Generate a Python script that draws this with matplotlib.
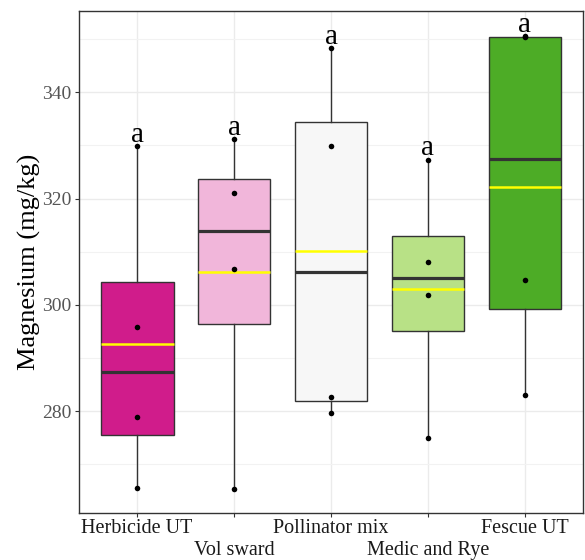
import matplotlib

matplotlib.use("Agg")
import matplotlib.pyplot as plt
import numpy as np
from matplotlib.ticker import MultipleLocator

# Magnesium per plot (mg/kg), four plots per treatment
treatments = ["Herbicide UT", "Vol sward", "Pollinator mix", "Medic and Rye", "Fescue UT"]
herbicide_ut = [265.6, 278.9, 295.8, 329.9]
vol_sward = [265.3, 306.8, 321.1, 331.2]
pollinator_mix = [279.7, 282.7, 329.8, 348.3]
medic_rye = [274.9, 301.8, 308.1, 327.3]
fescue_ut = [283.1, 304.6, 350.4, 350.6]
letters = ["a", "a", "a", "a", "a"]
fills = ["#D01C8B", "#F1B6DA", "#F7F7F7", "#B8E186", "#4DAC26"]

groups = [herbicide_ut, vol_sward, pollinator_mix, medic_rye, fescue_ut]
pos = np.arange(1, len(treatments) + 1)

plt.rcParams["font.family"] = ["Liberation Serif", "DejaVu Serif"]

fig = plt.figure(figsize=(5.85, 5.6), dpi=100)
ax = fig.add_axes([79 / 585, 1 - 513 / 560, 504 / 585, 502 / 560])

edge = "#333333"
bp = ax.boxplot(
    groups,
    positions=pos,
    widths=0.75,
    whis=(0, 100),
    patch_artist=True,
    showcaps=False,
    showfliers=False,
    showmeans=True,
    meanline=True,
    boxprops=dict(edgecolor=edge, linewidth=1.0),
    whiskerprops=dict(color=edge, linewidth=1.0),
    medianprops=dict(color=edge, linewidth=2.3),
    meanprops=dict(color="#FFFF00", linestyle="-", linewidth=1.8),
    zorder=2,
)
for patch, c in zip(bp["boxes"], fills):
    patch.set_facecolor(c)

for x, vals in zip(pos, groups):
    ax.scatter([x] * len(vals), vals, s=16, color="black", zorder=4, linewidths=0)

for x, vals, lab in zip(pos, groups, letters):
    ax.text(x, max(vals) + 0.8, lab, ha="center", va="baseline", fontsize=21, color="black", zorder=5)

ax.set_xlim(0.4, 5.6)
ax.set_ylim(260.8, 355.3)
ax.yaxis.set_major_locator(MultipleLocator(20))
ax.yaxis.set_minor_locator(MultipleLocator(10))
ax.set_axisbelow(True)
ax.grid(True, which="major", color="#EBEBEB", linewidth=1.0)
ax.grid(True, which="minor", axis="y", color="#F2F2F2", linewidth=0.8)

ax.set_xticks(pos)
ax.set_xticklabels(treatments, fontsize=14.5, color="#1A1A1A")
ax.tick_params(axis="x", length=3, width=0.8, color=edge, pad=1.5, which="major")
ax.tick_params(axis="y", length=3, width=0.8, color=edge, pad=2.5, labelsize=14, labelcolor="#555555", which="major")
ax.tick_params(which="minor", length=0)

# dodge every second category label down to a second row
for t in ax.xaxis.get_major_ticks()[1::2]:
    t.set_pad(17.5)

ax.set_ylabel("Magnesium (mg/kg)", fontsize=19, color="black", labelpad=1)

for s in ax.spines.values():
    s.set_color(edge)
    s.set_linewidth(1.0)

fig.savefig("out.png", dpi=100)
